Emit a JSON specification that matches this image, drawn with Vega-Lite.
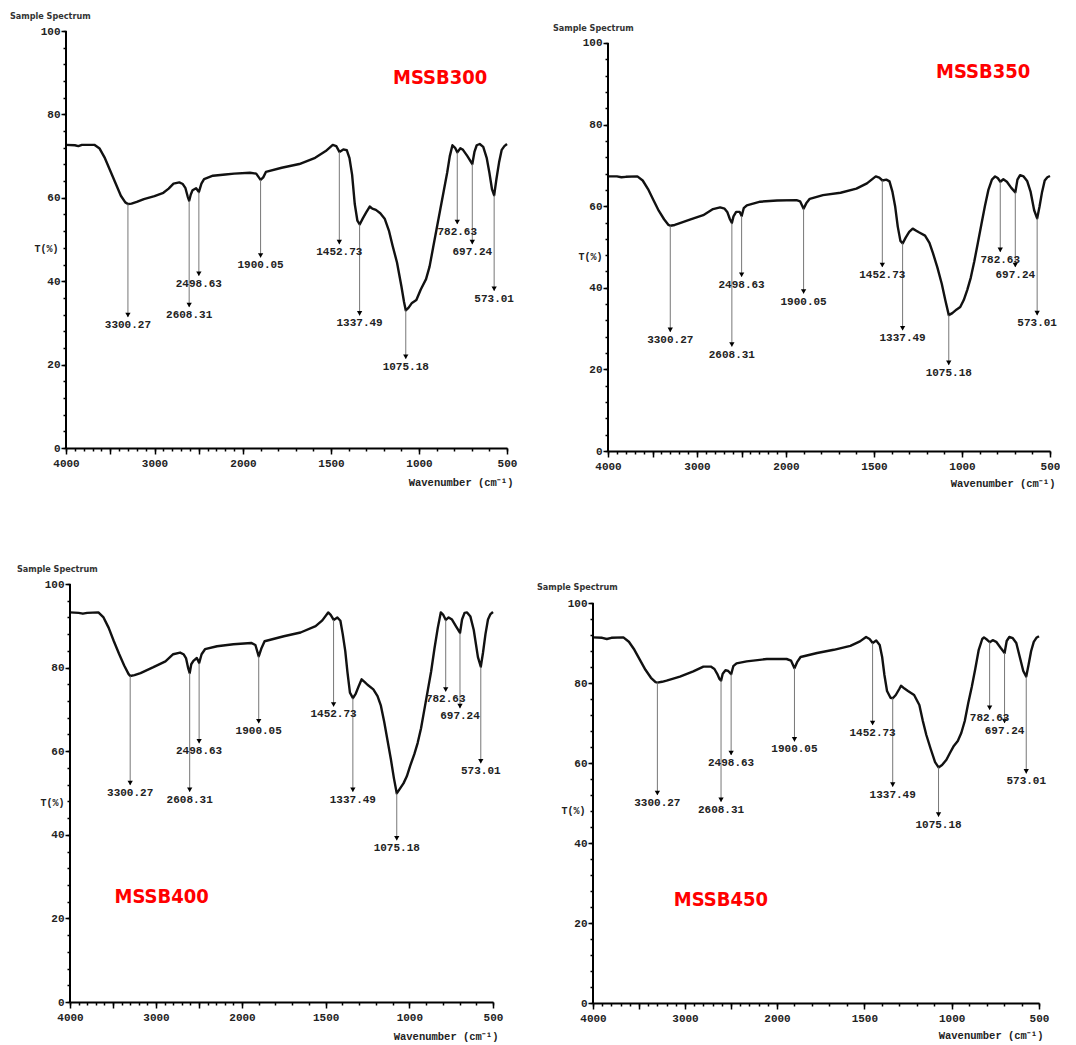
{
  "$schema": "https://vega.github.io/schema/vega-lite/v6.json",
  "background": "white",
  "padding": {"left": 10, "top": 12, "right": 0, "bottom": 0},
  "bounds": "flush",
  "columns": 2,
  "spacing": {"row": 133, "column": 86},
  "config": {
    "view": {"stroke": null},
    "axis": {
      "domainColor": "#000", "domainWidth": 2, "tickColor": "#000", "tickWidth": 1.5,
      "labelFont": "Liberation Mono", "labelFontSize": 11, "labelFontWeight": "bold", "labelColor": "#222",
      "titleFont": "Liberation Mono", "titleFontSize": 10.5, "titleFontWeight": "bold", "titleColor": "#222",
      "grid": false, "labelOverlap": false, "labelFlush": false
    },
    "title": {"font": "DejaVu Sans Condensed, Liberation Sans, sans-serif", "fontSize": 9, "fontWeight": "bold", "color": "#333", "anchor": "start", "frame": "group", "offset": 4}
  },
  "datasets": {
    "s300": [
      {"wn":4000,"T":72.7},{"wn":3900,"T":72.6},{"wn":3860,"T":72.4},{"wn":3820,"T":72.7},{"wn":3680,"T":72.7},{"wn":3620,"T":71.8},{"wn":3560,"T":69.5},{"wn":3500,"T":66.5},{"wn":3440,"T":63.5},{"wn":3380,"T":60.5},{"wn":3330,"T":58.9},{"wn":3300,"T":58.5},{"wn":3260,"T":58.6},{"wn":3200,"T":59.0},{"wn":3120,"T":59.7},{"wn":3000,"T":60.4},{"wn":2900,"T":61.2},{"wn":2840,"T":62.2},{"wn":2785,"T":63.4},{"wn":2720,"T":63.7},{"wn":2680,"T":63.3},{"wn":2650,"T":62.3},{"wn":2625,"T":60.3},{"wn":2608,"T":59.3},{"wn":2590,"T":60.8},{"wn":2570,"T":61.8},{"wn":2530,"T":62.3},{"wn":2498,"T":61.4},{"wn":2470,"T":63.4},{"wn":2440,"T":64.5},{"wn":2340,"T":65.3},{"wn":2200,"T":65.6},{"wn":2100,"T":65.8},{"wn":1960,"T":66.0},{"wn":1925,"T":65.8},{"wn":1900,"T":64.3},{"wn":1885,"T":64.9},{"wn":1870,"T":66.2},{"wn":1780,"T":67.2},{"wn":1680,"T":68.1},{"wn":1590,"T":69.6},{"wn":1530,"T":71.2},{"wn":1490,"T":72.7},{"wn":1470,"T":72.4},{"wn":1452,"T":71.0},{"wn":1430,"T":71.6},{"wn":1410,"T":71.4},{"wn":1395,"T":69.5},{"wn":1380,"T":65.5},{"wn":1365,"T":58.5},{"wn":1350,"T":54.5},{"wn":1337,"T":53.6},{"wn":1320,"T":55.0},{"wn":1300,"T":56.5},{"wn":1280,"T":57.9},{"wn":1265,"T":57.4},{"wn":1245,"T":57.1},{"wn":1220,"T":56.3},{"wn":1195,"T":55.0},{"wn":1170,"T":52.0},{"wn":1150,"T":48.5},{"wn":1125,"T":44.5},{"wn":1100,"T":38.8},{"wn":1085,"T":35.0},{"wn":1075,"T":33.0},{"wn":1060,"T":33.6},{"wn":1040,"T":34.8},{"wn":1015,"T":35.5},{"wn":990,"T":38.0},{"wn":960,"T":40.5},{"wn":940,"T":43.5},{"wn":920,"T":48.0},{"wn":900,"T":52.5},{"wn":880,"T":57.0},{"wn":860,"T":61.5},{"wn":840,"T":66.0},{"wn":825,"T":70.0},{"wn":810,"T":72.6},{"wn":795,"T":72.0},{"wn":782,"T":70.9},{"wn":765,"T":71.9},{"wn":750,"T":71.5},{"wn":725,"T":70.0},{"wn":697,"T":68.1},{"wn":685,"T":71.0},{"wn":672,"T":72.6},{"wn":655,"T":72.9},{"wn":635,"T":72.2},{"wn":615,"T":69.5},{"wn":600,"T":66.0},{"wn":585,"T":62.0},{"wn":573,"T":60.6},{"wn":560,"T":64.5},{"wn":545,"T":68.5},{"wn":530,"T":71.5},{"wn":515,"T":72.4},{"wn":500,"T":72.9}
    ],
    "s350": [
      {"wn":4000,"T":67.3},{"wn":3900,"T":67.3},{"wn":3850,"T":67.1},{"wn":3800,"T":67.2},{"wn":3670,"T":67.3},{"wn":3610,"T":66.3},{"wn":3550,"T":64.2},{"wn":3490,"T":61.5},{"wn":3430,"T":58.9},{"wn":3370,"T":56.8},{"wn":3320,"T":55.4},{"wn":3300,"T":55.2},{"wn":3250,"T":55.4},{"wn":3200,"T":55.8},{"wn":3080,"T":56.7},{"wn":2930,"T":57.8},{"wn":2820,"T":59.3},{"wn":2740,"T":59.7},{"wn":2690,"T":59.4},{"wn":2660,"T":58.6},{"wn":2630,"T":56.8},{"wn":2608,"T":55.9},{"wn":2590,"T":57.5},{"wn":2560,"T":58.6},{"wn":2520,"T":58.6},{"wn":2498,"T":57.6},{"wn":2475,"T":59.5},{"wn":2440,"T":60.2},{"wn":2290,"T":61.1},{"wn":2100,"T":61.4},{"wn":1940,"T":61.5},{"wn":1920,"T":61.2},{"wn":1900,"T":59.4},{"wn":1885,"T":60.7},{"wn":1865,"T":61.8},{"wn":1790,"T":62.7},{"wn":1690,"T":63.3},{"wn":1600,"T":64.3},{"wn":1540,"T":65.6},{"wn":1490,"T":67.3},{"wn":1470,"T":67.0},{"wn":1452,"T":66.3},{"wn":1430,"T":66.5},{"wn":1412,"T":66.1},{"wn":1395,"T":63.5},{"wn":1380,"T":60.0},{"wn":1365,"T":55.0},{"wn":1350,"T":51.5},{"wn":1337,"T":50.9},{"wn":1320,"T":52.3},{"wn":1300,"T":53.7},{"wn":1280,"T":54.5},{"wn":1260,"T":54.0},{"wn":1245,"T":53.6},{"wn":1210,"T":52.8},{"wn":1185,"T":51.0},{"wn":1165,"T":48.5},{"wn":1140,"T":45.0},{"wn":1115,"T":41.0},{"wn":1095,"T":37.0},{"wn":1075,"T":33.3},{"wn":1055,"T":33.8},{"wn":1030,"T":34.7},{"wn":1010,"T":35.3},{"wn":990,"T":37.0},{"wn":970,"T":39.5},{"wn":950,"T":42.5},{"wn":930,"T":46.5},{"wn":910,"T":51.0},{"wn":890,"T":55.5},{"wn":870,"T":60.0},{"wn":850,"T":64.0},{"wn":830,"T":66.5},{"wn":812,"T":67.3},{"wn":797,"T":66.9},{"wn":782,"T":66.0},{"wn":765,"T":66.6},{"wn":745,"T":66.0},{"wn":720,"T":64.5},{"wn":697,"T":63.4},{"wn":685,"T":66.5},{"wn":670,"T":67.6},{"wn":650,"T":67.3},{"wn":630,"T":66.2},{"wn":610,"T":63.5},{"wn":590,"T":59.0},{"wn":573,"T":57.0},{"wn":560,"T":59.8},{"wn":545,"T":63.5},{"wn":530,"T":66.3},{"wn":515,"T":67.1},{"wn":500,"T":67.4}
    ],
    "s400": [
      {"wn":4000,"T":93.2},{"wn":3900,"T":93.1},{"wn":3850,"T":92.9},{"wn":3800,"T":93.1},{"wn":3670,"T":93.2},{"wn":3610,"T":92.0},{"wn":3550,"T":89.5},{"wn":3490,"T":86.3},{"wn":3430,"T":83.3},{"wn":3370,"T":80.5},{"wn":3320,"T":78.5},{"wn":3300,"T":78.0},{"wn":3250,"T":78.2},{"wn":3180,"T":78.7},{"wn":3030,"T":80.1},{"wn":2890,"T":81.5},{"wn":2800,"T":83.2},{"wn":2720,"T":83.6},{"wn":2680,"T":83.2},{"wn":2650,"T":82.2},{"wn":2625,"T":79.8},{"wn":2608,"T":78.7},{"wn":2590,"T":80.8},{"wn":2565,"T":81.6},{"wn":2525,"T":82.3},{"wn":2498,"T":81.1},{"wn":2470,"T":83.2},{"wn":2430,"T":84.4},{"wn":2290,"T":85.1},{"wn":2100,"T":85.6},{"wn":1945,"T":85.9},{"wn":1920,"T":85.4},{"wn":1900,"T":82.7},{"wn":1885,"T":84.5},{"wn":1865,"T":86.3},{"wn":1750,"T":87.5},{"wn":1650,"T":88.4},{"wn":1560,"T":89.9},{"wn":1520,"T":91.3},{"wn":1485,"T":93.2},{"wn":1470,"T":92.6},{"wn":1452,"T":91.4},{"wn":1430,"T":92.0},{"wn":1412,"T":91.2},{"wn":1398,"T":88.0},{"wn":1383,"T":84.0},{"wn":1370,"T":79.0},{"wn":1355,"T":74.0},{"wn":1337,"T":72.7},{"wn":1320,"T":73.8},{"wn":1300,"T":75.8},{"wn":1285,"T":77.2},{"wn":1268,"T":76.6},{"wn":1250,"T":75.9},{"wn":1215,"T":74.8},{"wn":1190,"T":73.2},{"wn":1170,"T":70.9},{"wn":1150,"T":67.0},{"wn":1130,"T":62.5},{"wn":1110,"T":58.0},{"wn":1092,"T":53.5},{"wn":1075,"T":49.9},{"wn":1060,"T":50.8},{"wn":1035,"T":52.3},{"wn":1015,"T":54.0},{"wn":995,"T":56.5},{"wn":970,"T":59.3},{"wn":950,"T":62.0},{"wn":930,"T":65.5},{"wn":910,"T":70.0},{"wn":890,"T":74.5},{"wn":870,"T":79.0},{"wn":850,"T":84.5},{"wn":830,"T":89.5},{"wn":812,"T":93.2},{"wn":797,"T":92.6},{"wn":782,"T":91.4},{"wn":765,"T":92.0},{"wn":745,"T":91.5},{"wn":720,"T":89.8},{"wn":697,"T":88.3},{"wn":685,"T":91.5},{"wn":670,"T":93.1},{"wn":655,"T":93.2},{"wn":635,"T":92.2},{"wn":615,"T":89.0},{"wn":590,"T":82.5},{"wn":573,"T":80.2},{"wn":560,"T":83.5},{"wn":545,"T":88.0},{"wn":530,"T":91.5},{"wn":515,"T":92.8},{"wn":500,"T":93.3}
    ],
    "s450": [
      {"wn":4000,"T":91.4},{"wn":3900,"T":91.3},{"wn":3850,"T":91.0},{"wn":3800,"T":91.3},{"wn":3670,"T":91.4},{"wn":3610,"T":90.3},{"wn":3550,"T":88.3},{"wn":3490,"T":85.8},{"wn":3430,"T":83.3},{"wn":3370,"T":81.3},{"wn":3320,"T":80.2},{"wn":3300,"T":80.1},{"wn":3250,"T":80.3},{"wn":3200,"T":80.6},{"wn":3055,"T":81.6},{"wn":2910,"T":82.9},{"wn":2800,"T":84.1},{"wn":2720,"T":84.1},{"wn":2680,"T":83.5},{"wn":2650,"T":82.3},{"wn":2625,"T":81.0},{"wn":2608,"T":80.6},{"wn":2590,"T":82.3},{"wn":2560,"T":83.2},{"wn":2530,"T":83.0},{"wn":2498,"T":82.2},{"wn":2475,"T":84.2},{"wn":2440,"T":84.9},{"wn":2330,"T":85.4},{"wn":2110,"T":86.0},{"wn":1945,"T":86.0},{"wn":1920,"T":85.6},{"wn":1900,"T":83.7},{"wn":1885,"T":85.2},{"wn":1865,"T":86.5},{"wn":1770,"T":87.5},{"wn":1675,"T":88.3},{"wn":1580,"T":89.3},{"wn":1525,"T":90.4},{"wn":1490,"T":91.5},{"wn":1470,"T":91.0},{"wn":1452,"T":90.0},{"wn":1432,"T":90.6},{"wn":1412,"T":89.5},{"wn":1398,"T":86.5},{"wn":1385,"T":82.0},{"wn":1370,"T":78.0},{"wn":1350,"T":76.3},{"wn":1337,"T":76.2},{"wn":1320,"T":77.0},{"wn":1300,"T":78.5},{"wn":1290,"T":79.3},{"wn":1270,"T":78.6},{"wn":1250,"T":78.0},{"wn":1215,"T":77.0},{"wn":1185,"T":74.5},{"wn":1165,"T":70.5},{"wn":1145,"T":67.0},{"wn":1120,"T":63.5},{"wn":1095,"T":60.2},{"wn":1075,"T":58.9},{"wn":1055,"T":59.5},{"wn":1030,"T":60.8},{"wn":1010,"T":62.5},{"wn":990,"T":64.1},{"wn":965,"T":65.5},{"wn":945,"T":67.5},{"wn":925,"T":70.5},{"wn":905,"T":75.0},{"wn":885,"T":79.0},{"wn":865,"T":83.5},{"wn":845,"T":88.3},{"wn":825,"T":91.0},{"wn":815,"T":91.4},{"wn":797,"T":90.8},{"wn":782,"T":90.2},{"wn":765,"T":90.7},{"wn":745,"T":90.3},{"wn":720,"T":88.8},{"wn":697,"T":87.5},{"wn":685,"T":90.5},{"wn":670,"T":91.5},{"wn":650,"T":91.2},{"wn":630,"T":90.0},{"wn":610,"T":86.5},{"wn":590,"T":83.0},{"wn":573,"T":81.6},{"wn":560,"T":84.5},{"wn":545,"T":88.0},{"wn":530,"T":90.3},{"wn":515,"T":91.3},{"wn":500,"T":91.7}
    ],
    "k300": [
      {"wn":3300.27,"label":"3300.27","top":58.5,"tip":31.4},{"wn":2608.31,"label":"2608.31","top":59.3,"tip":33.8},{"wn":2498.63,"label":"2498.63","top":61.4,"tip":41.3},{"wn":1900.05,"label":"1900.05","top":64.3,"tip":45.7},{"wn":1452.73,"label":"1452.73","top":71.0,"tip":48.9},{"wn":1337.49,"label":"1337.49","top":53.6,"tip":31.8},{"wn":1075.18,"label":"1075.18","top":33.0,"tip":21.4},{"wn":782.63,"label":"782.63","top":70.9,"tip":53.7},{"wn":697.24,"label":"697.24","top":68.1,"tip":48.9},{"wn":573.01,"label":"573.01","top":60.6,"tip":37.7}
    ],
    "k350": [
      {"wn":3300.27,"label":"3300.27","top":55.2,"tip":29.2},{"wn":2608.31,"label":"2608.31","top":55.9,"tip":25.6},{"wn":2498.63,"label":"2498.63","top":57.6,"tip":42.7},{"wn":1900.05,"label":"1900.05","top":59.4,"tip":38.6},{"wn":1452.73,"label":"1452.73","top":66.3,"tip":45.1},{"wn":1337.49,"label":"1337.49","top":50.9,"tip":29.6},{"wn":1075.18,"label":"1075.18","top":33.3,"tip":21.1},{"wn":782.63,"label":"782.63","top":66.0,"tip":48.8},{"wn":697.24,"label":"697.24","top":63.4,"tip":45.1},{"wn":573.01,"label":"573.01","top":57.0,"tip":33.3}
    ],
    "k400": [
      {"wn":3300.27,"label":"3300.27","top":78.0,"tip":51.9},{"wn":2608.31,"label":"2608.31","top":78.7,"tip":50.3},{"wn":2498.63,"label":"2498.63","top":81.1,"tip":61.9},{"wn":1900.05,"label":"1900.05","top":82.7,"tip":66.7},{"wn":1452.73,"label":"1452.73","top":91.4,"tip":70.7},{"wn":1337.49,"label":"1337.49","top":72.7,"tip":50.3},{"wn":1075.18,"label":"1075.18","top":49.9,"tip":38.7},{"wn":782.63,"label":"782.63","top":91.4,"tip":74.3},{"wn":697.24,"label":"697.24","top":88.3,"tip":70.3},{"wn":573.01,"label":"573.01","top":80.2,"tip":57.1}
    ],
    "k450": [
      {"wn":3300.27,"label":"3300.27","top":80.1,"tip":52.0},{"wn":2608.31,"label":"2608.31","top":80.6,"tip":50.3},{"wn":2498.63,"label":"2498.63","top":82.2,"tip":62.0},{"wn":1900.05,"label":"1900.05","top":83.7,"tip":65.4},{"wn":1452.73,"label":"1452.73","top":90.0,"tip":69.5},{"wn":1337.49,"label":"1337.49","top":76.2,"tip":54.1},{"wn":1075.18,"label":"1075.18","top":58.9,"tip":46.6},{"wn":782.63,"label":"782.63","top":90.2,"tip":73.3},{"wn":697.24,"label":"697.24","top":87.5,"tip":70.0},{"wn":573.01,"label":"573.01","top":81.6,"tip":57.4}
    ],
    "yaxis": [{"wn": 4000, "T": 0, "T2": 100}]
  },
  "concat": [
    {
      "width": 441, "height": 417,
      "title": {"text": "Sample Spectrum", "dx": -56},
      "resolve": {"axis": {"x": "independent", "y": "independent"}},
      "layer": [
        {
          "data": {"name": "s300"},
          "mark": {"type": "line", "color": "#111", "strokeWidth": 2.4, "strokeJoin": "round"},
          "encoding": {
            "x": {"field": "wn", "type": "quantitative", "scale": {"domain": [4000, 2000, 500], "range": [0, 177, 441], "nice": false, "zero": false},
              "axis": {"orient": "bottom", "values": [4000,3500,3000,2500,2000,1500,1000,500], "format": "d", "tickSize": 6, "labelPadding": 3,
                "labelExpr": "datum.value === 3500 || datum.value === 2500 ? '' : datum.label",
                "title": "Wavenumber (cm⁻¹)", "titleAlign": "right", "titleBaseline": "middle", "titleX": 447, "titleY": 34}},
            "y": {"field": "T", "type": "quantitative", "scale": {"domain": [0, 100], "nice": false, "zero": false},
              "axis": {"orient": "left", "domain": false, "values": [0,20,40,60,80,100], "tickSize": 5, "labelPadding": 1,
                "title": "T(%)", "titleAngle": 0, "titleAlign": "center", "titleBaseline": "middle", "titleFontSize": 10, "titleX": -20, "titleY": 217}}
          }
        },
        {
          "data": {"name": "yaxis"},
          "mark": {"type": "rule", "color": "#000", "strokeWidth": 2},
          "encoding": {
            "x": {"field": "wn", "type": "quantitative", "axis": {"orient": "bottom", "values": [4000,3900,3800,3700,3600,3500,3400,3300,3200,3100,3000,2900,2800,2700,2600,2500,2400,2300,2200,2100,2000,1900,1800,1700,1600,1500,1400,1300,1200,1100,1000,900,800,700,600,500], "labels": false, "domain": false, "title": null, "tickSize": 3}},
            "y": {"field": "T", "type": "quantitative", "axis": {"orient": "left", "values": [0,4,8,12,16,20,24,28,32,36,40,44,48,52,56,60,64,68,72,76,80,84,88,92,96,100], "labels": false, "domain": false, "title": null, "tickSize": 3}},
            "y2": {"field": "T2"}
          }
        },
        {
          "data": {"name": "k300"},
          "mark": {"type": "rule", "color": "#777", "strokeWidth": 1},
          "encoding": {"x": {"field": "wn", "type": "quantitative", "axis": null}, "y": {"field": "top", "type": "quantitative", "axis": null}, "y2": {"field": "tip"}}
        },
        {
          "data": {"name": "k300"},
          "mark": {"type": "point", "shape": "triangle-down", "filled": true, "color": "#000", "size": 28, "opacity": 1, "yOffset": -2},
          "encoding": {"x": {"field": "wn", "type": "quantitative", "axis": null}, "y": {"field": "tip", "type": "quantitative", "axis": null}}
        },
        {
          "data": {"name": "k300"},
          "mark": {"type": "text", "font": "Liberation Mono", "fontSize": 11, "fontWeight": "bold", "color": "#222", "baseline": "middle", "align": "center", "dy": 8},
          "encoding": {"x": {"field": "wn", "type": "quantitative", "axis": null}, "y": {"field": "tip", "type": "quantitative", "axis": null}, "text": {"field": "label"}}
        },
        {
          "data": {"values": [{"name": "MSSB300", "wn": 880, "T": 88.7}]},
          "mark": {"type": "text", "font": "DejaVu Sans Condensed, Liberation Sans, sans-serif", "fontSize": 20, "fontWeight": "bold", "color": "#FF0000", "baseline": "middle", "align": "center"},
          "encoding": {"x": {"field": "wn", "type": "quantitative", "axis": null}, "y": {"field": "T", "type": "quantitative", "axis": null}, "text": {"field": "name"}}
        }
      ]
    },
    {
      "width": 457, "height": 420,
      "title": {"text": "Sample Spectrum", "dx": -40, "dy": 6},
      "resolve": {"axis": {"x": "independent", "y": "independent"}},
      "layer": [
        {
          "data": {"name": "s350"},
          "mark": {"type": "line", "color": "#111", "strokeWidth": 2.4, "strokeJoin": "round"},
          "encoding": {
            "x": {"field": "wn", "type": "quantitative", "scale": {"domain": [4000, 2000, 500], "range": [15, 193, 457], "nice": false, "zero": false},
              "axis": {"orient": "bottom", "values": [4000,3500,3000,2500,2000,1500,1000,500], "format": "d", "tickSize": 6, "labelPadding": 3,
                "labelExpr": "datum.value === 3500 || datum.value === 2500 ? '' : datum.label",
                "title": "Wavenumber (cm⁻¹)", "titleAlign": "right", "titleBaseline": "middle", "titleX": 462, "titleY": 32}},
            "y": {"field": "T", "type": "quantitative", "scale": {"domain": [0, 102.94], "nice": false, "zero": false},
              "axis": {"orient": "left", "offset": -15, "domain": false, "values": [0,20,40,60,80,100], "tickSize": 5, "labelPadding": 1,
                "title": "T(%)", "titleAngle": 0, "titleAlign": "center", "titleBaseline": "middle", "titleFontSize": 10, "titleX": -18, "titleY": 225}}
          }
        },
        {
          "data": {"name": "yaxis"},
          "mark": {"type": "rule", "color": "#000", "strokeWidth": 2},
          "encoding": {
            "x": {"field": "wn", "type": "quantitative", "axis": {"orient": "bottom", "values": [4000,3900,3800,3700,3600,3500,3400,3300,3200,3100,3000,2900,2800,2700,2600,2500,2400,2300,2200,2100,2000,1900,1800,1700,1600,1500,1400,1300,1200,1100,1000,900,800,700,600,500], "labels": false, "domain": false, "title": null, "tickSize": 3}},
            "y": {"field": "T", "type": "quantitative", "axis": {"orient": "left", "offset": -15, "values": [0,4,8,12,16,20,24,28,32,36,40,44,48,52,56,60,64,68,72,76,80,84,88,92,96,100], "labels": false, "domain": false, "title": null, "tickSize": 3}},
            "y2": {"field": "T2"}
          }
        },
        {
          "data": {"name": "k350"},
          "mark": {"type": "rule", "color": "#777", "strokeWidth": 1},
          "encoding": {"x": {"field": "wn", "type": "quantitative", "axis": null}, "y": {"field": "top", "type": "quantitative", "axis": null}, "y2": {"field": "tip"}}
        },
        {
          "data": {"name": "k350"},
          "mark": {"type": "point", "shape": "triangle-down", "filled": true, "color": "#000", "size": 28, "opacity": 1, "yOffset": -2},
          "encoding": {"x": {"field": "wn", "type": "quantitative", "axis": null}, "y": {"field": "tip", "type": "quantitative", "axis": null}}
        },
        {
          "data": {"name": "k350"},
          "mark": {"type": "text", "font": "Liberation Mono", "fontSize": 11, "fontWeight": "bold", "color": "#222", "baseline": "middle", "align": "center", "dy": 8},
          "encoding": {"x": {"field": "wn", "type": "quantitative", "axis": null}, "y": {"field": "tip", "type": "quantitative", "axis": null}, "text": {"field": "label"}}
        },
        {
          "data": {"values": [{"name": "MSSB350", "wn": 880, "T": 92.9}]},
          "mark": {"type": "text", "font": "DejaVu Sans Condensed, Liberation Sans, sans-serif", "fontSize": 20, "fontWeight": "bold", "color": "#FF0000", "baseline": "middle", "align": "center"},
          "encoding": {"x": {"field": "wn", "type": "quantitative", "axis": null}, "y": {"field": "T", "type": "quantitative", "axis": null}, "text": {"field": "name"}}
        }
      ]
    },
    {
      "width": 427, "height": 418,
      "title": {"text": "Sample Spectrum", "dx": -49},
      "resolve": {"axis": {"x": "independent", "y": "independent"}},
      "layer": [
        {
          "data": {"name": "s400"},
          "mark": {"type": "line", "color": "#111", "strokeWidth": 2.4, "strokeJoin": "round"},
          "encoding": {
            "x": {"field": "wn", "type": "quantitative", "scale": {"domain": [4000, 2000, 500], "range": [4, 176, 427], "nice": false, "zero": false},
              "axis": {"orient": "bottom", "values": [4000,3500,3000,2500,2000,1500,1000,500], "format": "d", "tickSize": 6, "labelPadding": 3,
                "labelExpr": "datum.value === 3500 || datum.value === 2500 ? '' : datum.label",
                "title": "Wavenumber (cm⁻¹)", "titleAlign": "right", "titleBaseline": "middle", "titleX": 432, "titleY": 34}},
            "y": {"field": "T", "type": "quantitative", "scale": {"domain": [0, 100], "nice": false, "zero": false},
              "axis": {"orient": "left", "offset": -4, "domain": false, "values": [0,20,40,60,80,100], "tickSize": 5, "labelPadding": 1,
                "title": "T(%)", "titleAngle": 0, "titleAlign": "center", "titleBaseline": "middle", "titleFontSize": 10, "titleX": -18, "titleY": 218}}
          }
        },
        {
          "data": {"name": "yaxis"},
          "mark": {"type": "rule", "color": "#000", "strokeWidth": 2},
          "encoding": {
            "x": {"field": "wn", "type": "quantitative", "axis": {"orient": "bottom", "values": [4000,3900,3800,3700,3600,3500,3400,3300,3200,3100,3000,2900,2800,2700,2600,2500,2400,2300,2200,2100,2000,1900,1800,1700,1600,1500,1400,1300,1200,1100,1000,900,800,700,600,500], "labels": false, "domain": false, "title": null, "tickSize": 3}},
            "y": {"field": "T", "type": "quantitative", "axis": {"orient": "left", "offset": -4, "values": [0,4,8,12,16,20,24,28,32,36,40,44,48,52,56,60,64,68,72,76,80,84,88,92,96,100], "labels": false, "domain": false, "title": null, "tickSize": 3}},
            "y2": {"field": "T2"}
          }
        },
        {
          "data": {"name": "k400"},
          "mark": {"type": "rule", "color": "#777", "strokeWidth": 1},
          "encoding": {"x": {"field": "wn", "type": "quantitative", "axis": null}, "y": {"field": "top", "type": "quantitative", "axis": null}, "y2": {"field": "tip"}}
        },
        {
          "data": {"name": "k400"},
          "mark": {"type": "point", "shape": "triangle-down", "filled": true, "color": "#000", "size": 28, "opacity": 1, "yOffset": -2},
          "encoding": {"x": {"field": "wn", "type": "quantitative", "axis": null}, "y": {"field": "tip", "type": "quantitative", "axis": null}}
        },
        {
          "data": {"name": "k400"},
          "mark": {"type": "text", "font": "Liberation Mono", "fontSize": 11, "fontWeight": "bold", "color": "#222", "baseline": "middle", "align": "center", "dy": 8},
          "encoding": {"x": {"field": "wn", "type": "quantitative", "axis": null}, "y": {"field": "tip", "type": "quantitative", "axis": null}, "text": {"field": "label"}}
        },
        {
          "data": {"values": [{"name": "MSSB400", "wn": 2935, "T": 25.1}]},
          "mark": {"type": "text", "font": "DejaVu Sans Condensed, Liberation Sans, sans-serif", "fontSize": 20, "fontWeight": "bold", "color": "#FF0000", "baseline": "middle", "align": "center"},
          "encoding": {"x": {"field": "wn", "type": "quantitative", "axis": null}, "y": {"field": "T", "type": "quantitative", "axis": null}, "text": {"field": "name"}}
        }
      ]
    },
    {
      "width": 446, "height": 419,
      "title": {"text": "Sample Spectrum", "dx": -56, "dy": 12},
      "resolve": {"axis": {"x": "independent", "y": "independent"}},
      "layer": [
        {
          "data": {"name": "s450"},
          "mark": {"type": "line", "color": "#111", "strokeWidth": 2.4, "strokeJoin": "round"},
          "encoding": {
            "x": {"field": "wn", "type": "quantitative", "scale": {"domain": [4000, 2000, 500], "range": [0, 184, 446], "nice": false, "zero": false},
              "axis": {"orient": "bottom", "values": [4000,3500,3000,2500,2000,1500,1000,500], "format": "d", "tickSize": 6, "labelPadding": 3,
                "labelExpr": "datum.value === 3500 || datum.value === 2500 ? '' : datum.label",
                "title": "Wavenumber (cm⁻¹)", "titleAlign": "right", "titleBaseline": "middle", "titleX": 450, "titleY": 32}},
            "y": {"field": "T", "type": "quantitative", "scale": {"domain": [0, 104.75], "nice": false, "zero": false},
              "axis": {"orient": "left", "domain": false, "values": [0,20,40,60,80,100], "tickSize": 5, "labelPadding": 1,
                "title": "T(%)", "titleAngle": 0, "titleAlign": "center", "titleBaseline": "middle", "titleFontSize": 10, "titleX": -20, "titleY": 226}}
          }
        },
        {
          "data": {"name": "yaxis"},
          "mark": {"type": "rule", "color": "#000", "strokeWidth": 2},
          "encoding": {
            "x": {"field": "wn", "type": "quantitative", "axis": {"orient": "bottom", "values": [4000,3900,3800,3700,3600,3500,3400,3300,3200,3100,3000,2900,2800,2700,2600,2500,2400,2300,2200,2100,2000,1900,1800,1700,1600,1500,1400,1300,1200,1100,1000,900,800,700,600,500], "labels": false, "domain": false, "title": null, "tickSize": 3}},
            "y": {"field": "T", "type": "quantitative", "axis": {"orient": "left", "values": [0,4,8,12,16,20,24,28,32,36,40,44,48,52,56,60,64,68,72,76,80,84,88,92,96,100], "labels": false, "domain": false, "title": null, "tickSize": 3}},
            "y2": {"field": "T2"}
          }
        },
        {
          "data": {"name": "k450"},
          "mark": {"type": "rule", "color": "#777", "strokeWidth": 1},
          "encoding": {"x": {"field": "wn", "type": "quantitative", "axis": null}, "y": {"field": "top", "type": "quantitative", "axis": null}, "y2": {"field": "tip"}}
        },
        {
          "data": {"name": "k450"},
          "mark": {"type": "point", "shape": "triangle-down", "filled": true, "color": "#000", "size": 28, "opacity": 1, "yOffset": -2},
          "encoding": {"x": {"field": "wn", "type": "quantitative", "axis": null}, "y": {"field": "tip", "type": "quantitative", "axis": null}}
        },
        {
          "data": {"name": "k450"},
          "mark": {"type": "text", "font": "Liberation Mono", "fontSize": 11, "fontWeight": "bold", "color": "#222", "baseline": "middle", "align": "center", "dy": 8},
          "encoding": {"x": {"field": "wn", "type": "quantitative", "axis": null}, "y": {"field": "tip", "type": "quantitative", "axis": null}, "text": {"field": "label"}}
        },
        {
          "data": {"values": [{"name": "MSSB450", "wn": 2610, "T": 25.7}]},
          "mark": {"type": "text", "font": "DejaVu Sans Condensed, Liberation Sans, sans-serif", "fontSize": 20, "fontWeight": "bold", "color": "#FF0000", "baseline": "middle", "align": "center"},
          "encoding": {"x": {"field": "wn", "type": "quantitative", "axis": null}, "y": {"field": "T", "type": "quantitative", "axis": null}, "text": {"field": "name"}}
        }
      ]
    }
  ]
}
